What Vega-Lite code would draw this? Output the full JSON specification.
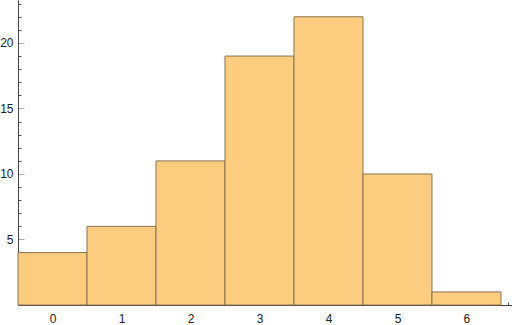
{
  "$schema": "https://vega.github.io/schema/vega-lite/v6.json",
  "width": 494,
  "height": 305,
  "autosize": "none",
  "padding": {"left": 18, "top": 0, "right": 0, "bottom": 20},
  "data": {"values": [
    {"lo": -0.5, "hi": 0.5, "count": 4},
    {"lo": 0.5, "hi": 1.5, "count": 6},
    {"lo": 1.5, "hi": 2.5, "count": 11},
    {"lo": 2.5, "hi": 3.5, "count": 19},
    {"lo": 3.5, "hi": 4.5, "count": 22},
    {"lo": 4.5, "hi": 5.5, "count": 10},
    {"lo": 5.5, "hi": 6.5, "count": 1}
  ]},
  "config": {
    "view": {"stroke": null},
    "axis": {"grid": false, "title": null, "zindex": 1, "labelFont": "Liberation Sans", "labelFontSize": 12, "labelColor": "#222", "domainColor": "#444", "domainWidth": 1}
  },
  "resolve": {"axis": {"x": "independent", "y": "independent"}},
  "layer": [
    {
      "mark": {"type": "rect", "fill": "#fccd7e", "stroke": "#8a7450", "strokeWidth": 1},
      "encoding": {
        "x": {"field": "lo", "type": "quantitative", "scale": {"domain": [-0.5, 6.66], "nice": false, "zero": false},
              "axis": {"orient": "bottom", "values": [0,1,2,3,4,5,6], "tickSize": -5, "tickColor": "#aaa", "labelPadding": 13, "format": "d"}},
        "x2": {"field": "hi"},
        "y": {"field": "count", "type": "quantitative", "scale": {"domain": [0, 23.28], "nice": false},
              "axis": {"orient": "left", "values": [5,10,15,20], "tickSize": -6, "tickColor": "#aaa", "labelPadding": 11}},
        "y2": {"datum": 0}
      }
    },
    {
      "mark": {"type": "rect", "opacity": 0},
      "encoding": {
        "x": {"field": "lo", "type": "quantitative", "scale": {"domain": [-0.5, 6.66], "nice": false, "zero": false},
              "axis": {"orient": "bottom", "values": [-0.4,-0.2,0.2,0.4,0.6,0.8,1.2,1.4,1.6,1.8,2.2,2.4,2.6,2.8,3.2,3.4,3.6,3.8,4.2,4.4,4.6,4.8,5.2,5.4,5.6,5.8,6.2,6.4,6.6], "tickSize": -3, "tickColor": "#555", "labels": false}},
        "x2": {"field": "hi"},
        "y": {"field": "count", "type": "quantitative", "scale": {"domain": [0, 23.28], "nice": false},
              "axis": {"orient": "left", "values": [1,2,3,4,6,7,8,9,11,12,13,14,16,17,18,19,21,22,23], "tickSize": -3, "tickColor": "#555", "labels": false}},
        "y2": {"datum": 0}
      }
    }
  ]
}
